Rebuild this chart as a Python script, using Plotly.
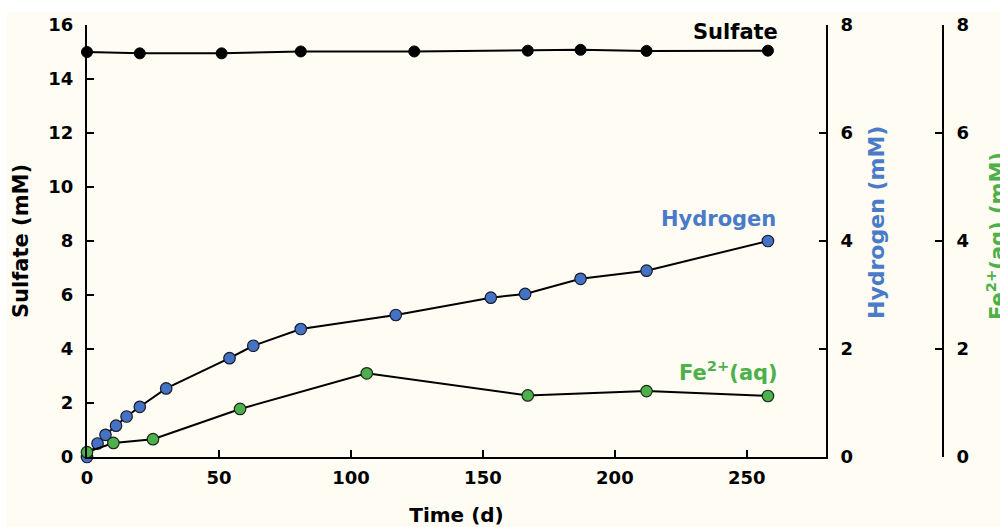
import plotly.graph_objects as go

# ---- data ----
sulfate_t = [0, 20, 51, 81, 124, 167, 187, 212, 258]
sulfate_v = [15.0, 14.95, 14.95, 15.02, 15.02, 15.05, 15.08, 15.04, 15.05]

hydrogen_t = [0, 4, 7, 11, 15, 20, 30, 54, 63, 81, 117, 153, 166, 187, 212, 258]
hydrogen_v = [0.0, 0.25, 0.41, 0.58, 0.75, 0.93, 1.27, 1.83, 2.06, 2.37, 2.63, 2.95, 3.02, 3.30, 3.45, 4.0]

fe_t = [0, 10, 25, 58, 106, 167, 212, 258]
fe_v = [0.09, 0.26, 0.33, 0.89, 1.55, 1.14, 1.22, 1.13]

x_ticks = [0, 50, 100, 150, 200, 250]
sulfate_ticks = [0, 2, 4, 6, 8, 10, 12, 14, 16]
right_ticks = [0, 2, 4, 6, 8]

CREAM = "#FEFCF3"
BLUE = "#4472C4"
BLUE_T = "#4A7BC8"
GREEN = "#4DB04A"
GREEN_T = "#4DB04A"
FONT = "DejaVu Sans"

W, H = 1000, 527
ML, MR, MT, MB = 87, 57, 25, 70
PW, PH = W - ML - MR, H - MT - MB
x_end = (826 - ML) / PW


def px(xp):
    return (xp - ML) / PW


def py(yp):
    return (H - MB - yp) / PH


fig = go.Figure()
fig.add_trace(go.Scatter(x=sulfate_t, y=sulfate_v, mode="lines+markers", yaxis="y",
                         line=dict(color="black", width=2),
                         marker=dict(size=11, color="black", line=dict(color="black", width=1)),
                         cliponaxis=False, showlegend=False))
fig.add_trace(go.Scatter(x=hydrogen_t, y=hydrogen_v, mode="lines+markers", yaxis="y2",
                         line=dict(color="black", width=2),
                         marker=dict(size=11.5, color=BLUE, line=dict(color="#1a1a2a", width=1.2)),
                         cliponaxis=False, showlegend=False))
fig.add_trace(go.Scatter(x=fe_t, y=fe_v, mode="lines+markers", yaxis="y3",
                         line=dict(color="black", width=2),
                         marker=dict(size=11.5, color=GREEN, line=dict(color="#1a2a1a", width=1.2)),
                         cliponaxis=False, showlegend=False))

tickfont = dict(family=FONT, size=18, color="black", weight="bold")
axcommon = dict(showline=True, linecolor="black", linewidth=2, ticks="inside",
                ticklen=7, tickwidth=2, tickcolor="black", showgrid=False,
                zeroline=False, tickfont=tickfont, automargin=False)

fig.update_layout(
    width=W, height=H,
    margin=dict(l=ML, r=MR, t=MT, b=MB, autoexpand=False),
    paper_bgcolor=CREAM, plot_bgcolor=CREAM,
    xaxis=dict(domain=[0, x_end], range=[0, 280], tickvals=x_ticks, ticklabelstandoff=3,
               title=dict(text="Time (d)", font=dict(family=FONT, size=20, color="black", weight="bold"),
                          standoff=22),
               **axcommon),
    yaxis=dict(range=[0, 16], tickvals=sulfate_ticks, ticklabelstandoff=8,
               title=dict(text="Sulfate (mM)", font=dict(family=FONT, size=21, color="black", weight="bold"),
                          standoff=14),
               **axcommon),
    yaxis2=dict(range=[0, 8], tickvals=right_ticks, overlaying="y", side="right", anchor="x",
                ticklabelstandoff=9, **axcommon),
    yaxis3=dict(range=[0, 8], tickvals=right_ticks, overlaying="y", side="right", anchor="free",
                position=1.0, ticklabelstandoff=9, **axcommon),
)

# white strip along top and left edges of the picture
fig.add_shape(type="rect", xref="paper", yref="paper",
              x0=px(-5), x1=px(W + 5), y0=py(12), y1=py(-5),
              fillcolor="white", line=dict(width=0), layer="below")
fig.add_shape(type="rect", xref="paper", yref="paper",
              x0=px(-5), x1=px(7), y0=py(H + 5), y1=py(-5),
              fillcolor="white", line=dict(width=0), layer="below")

# right-side axis titles
fig.add_annotation(x=px(876), y=py(223), xref="paper", yref="paper", text="Hydrogen (mM)",
                   showarrow=False, textangle=-90, xanchor="center", yanchor="middle",
                   font=dict(family=FONT, size=22, color=BLUE_T, weight="bold"))
fig.add_annotation(x=px(996), y=py(236), xref="paper", yref="paper", text="Fe<sup>2+</sup>(aq) (mM)",
                   showarrow=False, textangle=-90, xanchor="center", yanchor="middle",
                   font=dict(family=FONT, size=21, color=GREEN_T, weight="bold"))

annfont = dict(family=FONT, size=21, weight="bold")
fig.add_annotation(x=262.5, y=15.74, xref="x", yref="y", text="Sulfate", showarrow=False,
                   xanchor="right", yanchor="middle", font=dict(color="black", **annfont))
fig.add_annotation(x=262, y=8.81, xref="x", yref="y", text="Hydrogen", showarrow=False,
                   xanchor="right", yanchor="middle", font=dict(color=BLUE_T, **annfont))
fig.add_annotation(x=262.5, y=3.19, xref="x", yref="y", text="Fe<sup>2+</sup>(aq)", showarrow=False,
                   xanchor="right", yanchor="middle", font=dict(color=GREEN_T, **annfont))

fig.write_html("out.html")
